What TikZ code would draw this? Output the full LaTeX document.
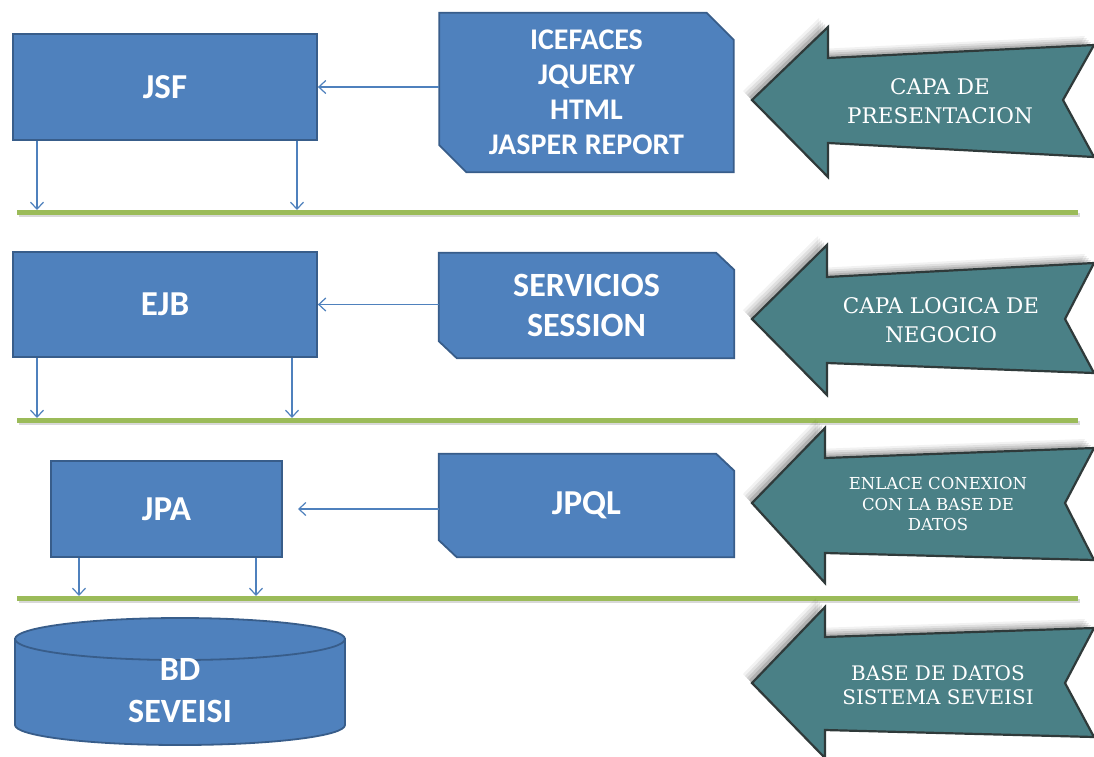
\documentclass[tikz,border=0pt]{standalone}
\usepackage{fontspec}
\setmainfont{Carlito}
\newfontfamily\arrowserif{DejaVu Serif}
\usetikzlibrary{arrows.meta,calc}
\pgfdeclarelayer{background}
\pgfsetlayers{background,main}
\definecolor{boxblue}{HTML}{4F81BD}
\definecolor{boxborder}{HTML}{385D8A}
\definecolor{tealfill}{HTML}{4A8086}
\definecolor{tealborder}{HTML}{2F3A3A}
\definecolor{lgreen}{HTML}{9BBB59}
\tikzset{
  blk/.style={draw=boxborder, line width=1.8pt, fill=boxblue, text=white,
    font=\bfseries\fontsize{35}{40}\selectfont, inner sep=0pt, align=center},
  chamftext/.style={text=white, font=\bfseries\fontsize{35}{40}\selectfont, inner sep=0pt, align=center},
  chamfshape/.style={fill=boxblue, draw=boxborder, line width=1.8pt, line join=miter},
  conn/.style={draw=boxblue, line width=1.2pt, -{Straight Barb[length=7pt,width=13pt,line width=1.2pt]}},
  greenline/.style={draw=lgreen, line width=5pt},
  greenshadow/.style={draw=black!25, line width=4pt, opacity=0.6},
  layerarrow/.style={fill=tealfill, draw=tealborder, line width=2.2pt, line join=miter},
  arrowshadow/.style={fill=black, draw=none},
  arrowtext/.style={text=white, align=center, inner sep=0pt, font=\arrowserif\fontsize{21.5}{29}\selectfont}
}
\newcommand{\layerpath}[8]{#1 -- #2 -- #3 -- #4 -- #5 -- #6 -- #7 -- #8 -- cycle}
% chamfered outline of a node: #1 node name, #2 horizontal cut, #3 vertical cut
\newcommand{\chamfbox}[3]{%
  \begin{pgfonlayer}{background}
  \path[chamfshape] (#1.north west) -- ($(#1.north east)+(-#2,0)$) -- ($(#1.north east)+(0,#3)$)
    -- (#1.south east) -- ($(#1.south west)+(#2,0)$) -- ($(#1.south west)+(0,-#3)$) -- cycle;
  \end{pgfonlayer}}
\begin{document}
\begin{tikzpicture}[x=1pt,y=-1pt]
\begin{pgfonlayer}{background}
\fill[white] (0,0) rectangle (1094,756);
\end{pgfonlayer}
\useasboundingbox (0,0) rectangle (1094,756);

% ---- green separator lines ----
\coordinate (l1a) at (17,212); \coordinate (l1b) at (1078,212);
\coordinate (l2a) at (17,420); \coordinate (l2b) at (1078,420);
\coordinate (l3a) at (17,598); \coordinate (l3b) at (1078,598);
\foreach \a/\b in {l1a/l1b,l2a/l2b,l3a/l3b}{
  \draw[greenshadow] ($(\a)+(2,3)$) -- ($(\b)+(2,3)$);
  \draw[greenline] (\a) -- (\b);
}

% ---- right side layer arrows ----
\foreach \s/\o in {9/0.05,7/0.07,5/0.09,3/0.12}{
 \begin{scope}[shift={(-\s,-\s)}]
  \fill[arrowshadow, opacity=\o] \layerpath{(752,100)}{(828,27)}{(828,58)}{(1094,45)}{(1063,100)}{(1094,157)}{(828,143)}{(828,177)};
  \fill[arrowshadow, opacity=\o] \layerpath{(752,319)}{(827,245)}{(827,277)}{(1094,263)}{(1065,319)}{(1094,373)}{(827,363)}{(827,395)};
  \fill[arrowshadow, opacity=\o] \layerpath{(752,503)}{(825,428)}{(825,458)}{(1094,448)}{(1065,503)}{(1094,560)}{(825,553)}{(825,583)};
  \fill[arrowshadow, opacity=\o] \layerpath{(752,683)}{(825,607)}{(825,637)}{(1094,628)}{(1065,683)}{(1094,737)}{(825,730)}{(825,758)};
 \end{scope}
}
\path[layerarrow] \layerpath{(752,100)}{(828,27)}{(828,58)}{(1094,45)}{(1063,100)}{(1094,157)}{(828,143)}{(828,177)};
\path[layerarrow] \layerpath{(752,319)}{(827,245)}{(827,277)}{(1094,263)}{(1065,319)}{(1094,373)}{(827,363)}{(827,395)};
\path[layerarrow] \layerpath{(752,503)}{(825,428)}{(825,458)}{(1094,448)}{(1065,503)}{(1094,560)}{(825,553)}{(825,583)};
\path[layerarrow] \layerpath{(752,683)}{(825,607)}{(825,637)}{(1094,628)}{(1065,683)}{(1094,737)}{(825,730)}{(825,758)};

\node[arrowtext] (t1) at (940,101) {CAPA DE\\PRESENTACION};
\node[arrowtext] (t2) at (941,320) {CAPA LOGICA DE\\NEGOCIO};
\node[arrowtext, font=\arrowserif\fontsize{16.5}{20.5}\selectfont] (t3) at (938,504) {ENLACE CONEXION\\CON LA BASE DE\\DATOS};
\node[arrowtext, font=\arrowserif\fontsize{20}{24}\selectfont] (t4) at (938,685) {BASE DE DATOS\\SISTEMA SEVEISI};

% ---- left boxes ----
\node[blk, minimum width=304pt, minimum height=106pt] (jsf) at (165,87) {JSF};
\node[blk, minimum width=304pt, minimum height=105pt] (ejb) at (165,304.5) {EJB};
\node[blk, minimum width=231pt, minimum height=96pt] (jpa) at (166.5,509) {JPA};

% ---- middle technology boxes ----
\node[chamftext, minimum width=294pt, minimum height=159pt,
      font=\bfseries\fontsize{30}{35}\selectfont] (ice) at (586.5,92.5)
      {\raisebox{3pt}{\parbox{290pt}{\centering ICEFACES\\JQUERY\\HTML\\JASPER REPORT}}};
\chamfbox{ice}{27}{27}
\node[chamftext, minimum width=295pt, minimum height=105pt,
      font=\bfseries\fontsize{34}{40}\selectfont] (serv) at (586.5,305.5)
      {SERVICIOS\\SESSION};
\chamfbox{serv}{18}{17}
\node[chamftext, minimum width=295pt, minimum height=103pt] (jpql) at (586.5,505.5) {JPQL};
\chamfbox{jpql}{18}{17}

% ---- horizontal connectors ----
\draw[conn] (ice.west |- jsf.east) -- (jsf.east);
\draw[conn] (serv.west |- ejb.east) -- (ejb.east);
\coordinate (jpatip) at (298,509);
\draw[conn] (jpql.west |- jpatip) -- (jpatip);

% ---- vertical connectors to the separator lines ----
\coordinate (d1) at (37,210);  \coordinate (d2) at (297,210);
\coordinate (d3) at (37,418);  \coordinate (d4) at (292,418);
\coordinate (d5) at (79,596);  \coordinate (d6) at (256,596);
\draw[conn] (jsf.south -| d1) -- (d1);
\draw[conn] (jsf.south -| d2) -- (d2);
\draw[conn] (ejb.south -| d3) -- (d3);
\draw[conn] (ejb.south -| d4) -- (d4);
\draw[conn] (jpa.south -| d5) -- (d5);
\draw[conn] (jpa.south -| d6) -- (d6);

% ---- database cylinder ----
\path[fill=boxblue, draw=boxborder, line width=1.8pt]
  (15,639) -- (15,725) arc[start angle=180, end angle=360, x radius=165pt, y radius=20pt]
  -- (345,639) -- cycle;
\path[fill=boxblue, draw=boxborder, line width=1.8pt]
  (180,639) ellipse[x radius=165pt, y radius=21pt];
\node[text=white, font=\bfseries\fontsize{34}{42}\selectfont, align=center, inner sep=0pt]
  (db) at (180,691) {BD\\SEVEISI};
\end{tikzpicture}
\end{document}
